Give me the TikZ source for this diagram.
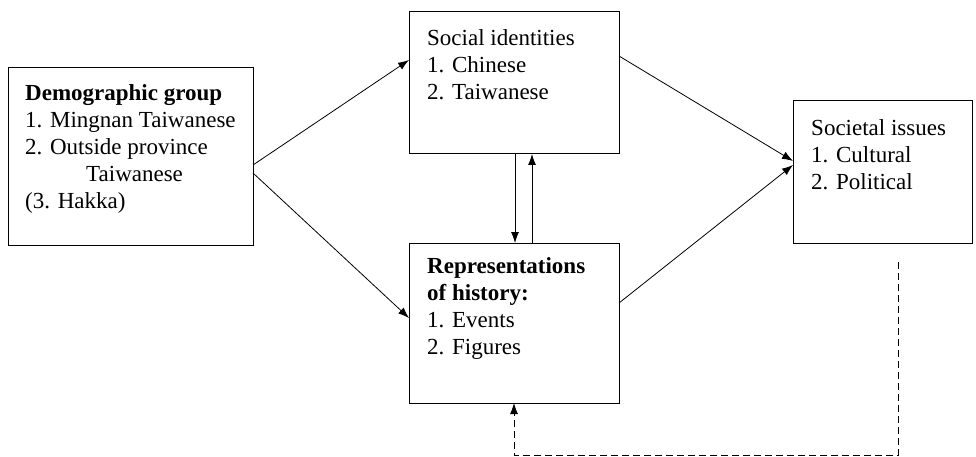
\documentclass[tikz,border=0pt]{standalone}
\usepackage{fontspec}
\setmainfont{Liberation Serif}
\usetikzlibrary{arrows.meta}
\begin{document}
\begin{tikzpicture}[x=1pt,y=-1pt,
  boxstyle/.style={draw,line width=1pt},
  txt/.style={anchor=north west,inner sep=0pt,align=left,font=\fontsize{23}{27}\selectfont},
  conn/.style={line width=0.8pt,-{Latex[length=11pt,width=8pt]}},
  dconn/.style={line width=0.8pt,dash pattern=on 7pt off 4pt,-{Latex[length=11pt,width=8pt]}}]
\useasboundingbox (0,0) rectangle (976,457);
% boxes
\draw[boxstyle] (8,68) rectangle (253,245);
\draw[boxstyle] (409,12) rectangle (619,154);
\draw[boxstyle] (409,243) rectangle (619,403);
\draw[boxstyle] (793,101) rectangle (972,243);
% texts
\node[txt] (demo) at (25,84) {\textbf{Demographic group}\\1. Mingnan Taiwanese\\2. Outside province\\\hspace*{61pt}Taiwanese\\(3. Hakka)};
\node[txt] (soc) at (427,29) {Social identities\\1. Chinese\\2. Taiwanese};
\node[txt] (rep) at (427,257) {\textbf{Representations}\\\textbf{of history:}\\1. Events\\2. Figures};
\node[txt] (iss) at (811,119) {Societal issues\\1. Cultural\\2. Political};
% connector endpoints
\coordinate (a1) at (253,165);
\coordinate (a2) at (409,60);
\coordinate (b1) at (253,173);
\coordinate (b2) at (409,318);
\coordinate (c1) at (619,56);
\coordinate (c2) at (793,161);
\coordinate (d1) at (619,303);
\coordinate (d2) at (793,165);
\coordinate (e1) at (515,154);
\coordinate (e2) at (515,243);
\coordinate (f1) at (532,243);
\coordinate (f2) at (532,154);
\coordinate (g1) at (898,262);
\coordinate (g2) at (898,455);
\coordinate (g3) at (514,455);
\coordinate (g4) at (514,403);
\draw[conn] (a1) -- (a2);
\draw[conn] (b1) -- (b2);
\draw[conn] (c1) -- (c2);
\draw[conn] (d1) -- (d2);
\draw[conn] (e1) -- (e2);
\draw[conn] (f1) -- (f2);
\draw[dconn] (g1) -- (g2) -- (g3) -- (g4);
\end{tikzpicture}
\end{document}
